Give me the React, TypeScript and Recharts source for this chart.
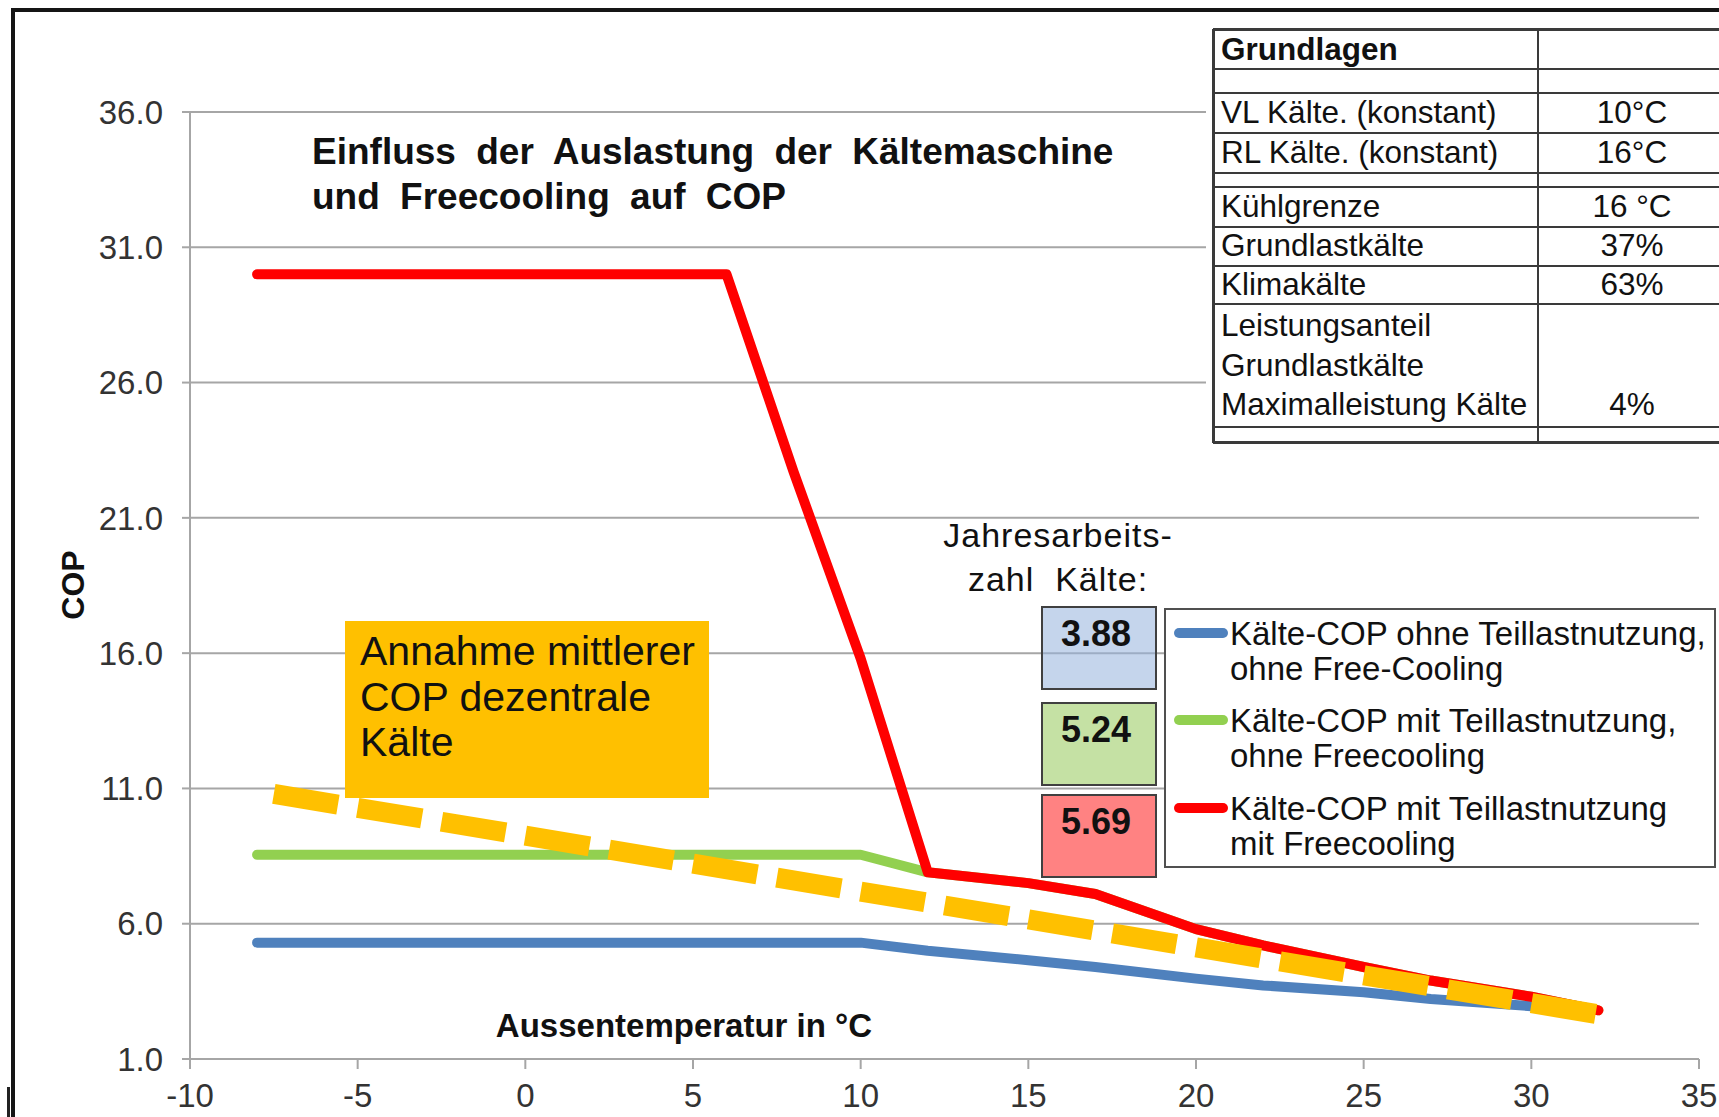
import { CartesianGrid, Line, LineChart, XAxis, YAxis } from "recharts";

const FONT = '"Liberation Sans", Arial, sans-serif';

const xTicks = [-10, -5, 0, 5, 10, 15, 20, 25, 30, 35];
const yTicks = [1, 6, 11, 16, 21, 26, 31, 36];

// Kälte-COP ohne Teillastnutzung, ohne Free-Cooling
const blueTemp = [-8, 10, 12, 15, 17, 20, 22, 25, 27, 30];
const blueCop = [5.3, 5.3, 5.0, 4.65, 4.4, 3.97, 3.72, 3.47, 3.22, 2.95];

// Kälte-COP mit Teillastnutzung, ohne Freecooling
const greenTemp = [-8, 10, 12, 15, 17, 20, 22, 25, 27, 30, 32];
const greenCop = [8.55, 8.55, 7.9, 7.5, 7.1, 5.8, 5.2, 4.4, 3.9, 3.3, 2.8];

// Kälte-COP mit Teillastnutzung mit Freecooling
const redTemp = [-8, 6, 8, 10, 12, 15, 17, 20, 22, 25, 27, 30, 32];
const redCop = [30, 30, 22.7, 15.8, 7.9, 7.5, 7.1, 5.8, 5.2, 4.4, 3.9, 3.3, 2.8];

// Annahme mittlerer COP dezentrale Kälte
const avgTemp = [-7.5, 32];
const avgCop = [10.8, 2.65];

const seriesNames = [
  "Kälte-COP ohne Teillastnutzung,\nohne Free-Cooling",
  "Kälte-COP mit Teillastnutzung,\nohne Freecooling",
  "Kälte-COP mit Teillastnutzung\nmit Freecooling",
];
const seriesColors = ["#4F81BD", "#92D050", "#FF0000"];
const jazValues = ["3.88", "5.24", "5.69"];
const jazFills = ["rgba(149,179,220,0.55)", "rgba(150,200,90,0.55)", "rgba(255,40,40,0.58)"];

const tableLabels = [
  "Grundlagen",
  "",
  "VL Kälte. (konstant)",
  "RL Kälte. (konstant)",
  "",
  "Kühlgrenze",
  "Grundlastkälte",
  "Klimakälte",
  "Leistungsanteil\nGrundlastkälte\nMaximalleistung Kälte",
  "",
];
const tableValues = ["", "", "10°C", "16°C", "", "16 °C", "37%", "63%", "\n\n4%", ""];

const toPoints = (xs: number[], ys: number[]) => xs.map((x, i) => ({ x, cop: ys[i] }));

const rowEdges = [29.3, 69.3, 92.7, 133.3, 172.7, 187.3, 226.7, 265.7, 304, 427.3, 441.7];
const legendTops = [616, 703, 791];
const boxTops = [606, 702, 794];

export default function App() {
  const lineProps = {
    type: "linear" as const,
    dataKey: "cop",
    dot: false,
    activeDot: false,
    isAnimationActive: false,
    strokeWidth: 10,
    strokeLinecap: "round" as const,
    strokeLinejoin: "round" as const,
  };

  return (
    <div
      style={{
        position: "absolute",
        left: 0,
        top: 0,
        width: 1719,
        height: 1117,
        background: "#fff",
        overflow: "hidden",
        fontFamily: FONT,
      }}
    >
      <LineChart width={1719} height={1117} margin={{ top: 112, right: 20, bottom: 0, left: 90 }}>
        <CartesianGrid vertical={false} stroke="#A6A6A6" strokeWidth={2} />
        <XAxis
          dataKey="x"
          type="number"
          domain={[-10, 35]}
          ticks={xTicks}
          interval={0}
          height={58}
          tickSize={10}
          tickMargin={15}
          axisLine={{ stroke: "#A6A6A6", strokeWidth: 2 }}
          tickLine={{ stroke: "#A6A6A6", strokeWidth: 2 }}
          tick={{ fontSize: 33, fill: "#333", fontFamily: FONT }}
        />
        <YAxis
          type="number"
          domain={[1, 36]}
          ticks={yTicks}
          interval={0}
          width={100}
          tickSize={8}
          tickMargin={19}
          tickFormatter={(v: number) => v.toFixed(1)}
          axisLine={{ stroke: "#A6A6A6", strokeWidth: 2 }}
          tickLine={{ stroke: "#A6A6A6", strokeWidth: 2 }}
          tick={{ fontSize: 33, fill: "#333", fontFamily: FONT }}
        />
        <Line {...lineProps} data={toPoints(greenTemp, greenCop)} stroke={seriesColors[1]} />
        <Line {...lineProps} data={toPoints(blueTemp, blueCop)} stroke={seriesColors[0]} />
        <Line {...lineProps} data={toPoints(redTemp, redCop)} stroke={seriesColors[2]} />
        <Line
          type="linear"
          dataKey="cop"
          data={toPoints(avgTemp, avgCop)}
          stroke="#FFC000"
          strokeWidth={20}
          strokeDasharray="65 20"
          dot={false}
          activeDot={false}
          isAnimationActive={false}
        />
      </LineChart>

      {/* outer frame */}
      <div
        style={{
          position: "absolute",
          left: 11,
          top: 8,
          width: 2000,
          height: 2000,
          borderTop: "4px solid #151515",
          borderLeft: "4px solid #151515",
        }}
      />
      <div style={{ position: "absolute", left: 7, top: 1087, width: 3, height: 40, background: "#222" }} />

      {/* title */}
      <div
        style={{
          position: "absolute",
          left: 312,
          top: 129,
          fontSize: 37,
          lineHeight: "45px",
          fontWeight: "bold",
          wordSpacing: 10,
          color: "#111",
          whiteSpace: "pre",
        }}
      >
        {"Einfluss der Auslastung der Kältemaschine\nund Freecooling auf COP"}
      </div>

      {/* axis titles */}
      <div
        style={{
          position: "absolute",
          left: 484,
          width: 400,
          textAlign: "center",
          top: 1009,
          fontSize: 33,
          lineHeight: "33px",
          fontWeight: "bold",
          color: "#111",
        }}
      >
        Aussentemperatur in °C
      </div>
      <div
        style={{
          position: "absolute",
          left: 23,
          top: 567,
          width: 100,
          textAlign: "center",
          fontSize: 32,
          lineHeight: "36px",
          fontWeight: "bold",
          color: "#111",
          transform: "rotate(-90deg)",
        }}
      >
        COP
      </div>

      {/* orange note */}
      <div
        style={{
          position: "absolute",
          left: 345,
          top: 621,
          width: 364,
          height: 177,
          boxSizing: "border-box",
          background: "#FFC000",
          padding: "8px 0 0 15px",
          fontSize: 41,
          lineHeight: "45.5px",
          color: "#111",
          whiteSpace: "pre",
        }}
      >
        {"Annahme mittlerer\nCOP dezentrale\nKälte"}
      </div>

      {/* Jahresarbeitszahl */}
      <div
        style={{
          position: "absolute",
          left: 908,
          width: 300,
          top: 514,
          textAlign: "center",
          fontSize: 34,
          lineHeight: "43.7px",
          letterSpacing: 1,
          color: "#111",
          whiteSpace: "pre",
        }}
      >
        {"Jahresarbeits-\nzahl  Kälte:"}
      </div>
      {jazValues.map((v, i) => (
        <div
          key={v}
          style={{
            position: "absolute",
            left: 1041,
            top: boxTops[i],
            width: 116,
            height: 84,
            boxSizing: "border-box",
            border: "2px solid #404040",
            background: jazFills[i],
            textAlign: "center",
            fontSize: 36,
            fontWeight: "bold",
            lineHeight: "36px",
            paddingTop: 8,
            paddingRight: 6,
            color: "#111",
          }}
        >
          {v}
        </div>
      ))}

      {/* legend */}
      <div
        style={{
          position: "absolute",
          left: 1164,
          top: 608,
          width: 552,
          height: 260,
          boxSizing: "border-box",
          border: "2px solid #505050",
          background: "#fff",
        }}
      />
      {seriesNames.map((name, i) => (
        <div key={name}>
          <div
            style={{
              position: "absolute",
              left: 1174,
              top: legendTops[i] + 12,
              width: 54,
              height: 10,
              borderRadius: 5,
              background: seriesColors[i],
            }}
          />
          <div
            style={{
              position: "absolute",
              left: 1230,
              top: legendTops[i],
              fontSize: 33,
              lineHeight: "35px",
              color: "#111",
              whiteSpace: "pre",
            }}
          >
            {name}
          </div>
        </div>
      ))}

      {/* Grundlagen table */}
      <div style={{ position: "absolute", left: 1206, top: 20, width: 520, height: 430, background: "#fff" }} />
      {tableLabels.map((label, i) => {
        const top = rowEdges[i];
        const h = rowEdges[i + 1] - rowEdges[i];
        return (
          <div key={i} style={{ position: "absolute", left: 1213, top, width: 520, height: h }}>
            <div
              style={{
                position: "absolute",
                left: 8,
                top: 0,
                width: 316,
                height: h,
                display: "flex",
                alignItems: "center",
                fontSize: 31.5,
                lineHeight: "39.5px",
                fontWeight: i === 0 ? "bold" : "normal",
                color: "#111",
                whiteSpace: "pre-line",
              }}
            >
              {label}
            </div>
            <div
              style={{
                position: "absolute",
                left: 324,
                top: 0,
                width: 190,
                height: h,
                display: "flex",
                alignItems: "center",
                justifyContent: "center",
                textAlign: "center",
                fontSize: 31.5,
                lineHeight: "39.5px",
                color: "#111",
                whiteSpace: "pre-line",
              }}
            >
              {tableValues[i]}
            </div>
          </div>
        );
      })}
      {rowEdges.map((y, i) => (
        <div
          key={"h" + i}
          style={{
            position: "absolute",
            left: 1213,
            top: y - 1,
            width: 520,
            height: i === 0 || i === rowEdges.length - 1 ? 3 : 2,
            background: "#3a3a3a",
          }}
        />
      ))}
      <div style={{ position: "absolute", left: 1212, top: 29, width: 3, height: 414, background: "#3a3a3a" }} />
      <div style={{ position: "absolute", left: 1537, top: 29, width: 2, height: 414, background: "#3a3a3a" }} />
    </div>
  );
}
